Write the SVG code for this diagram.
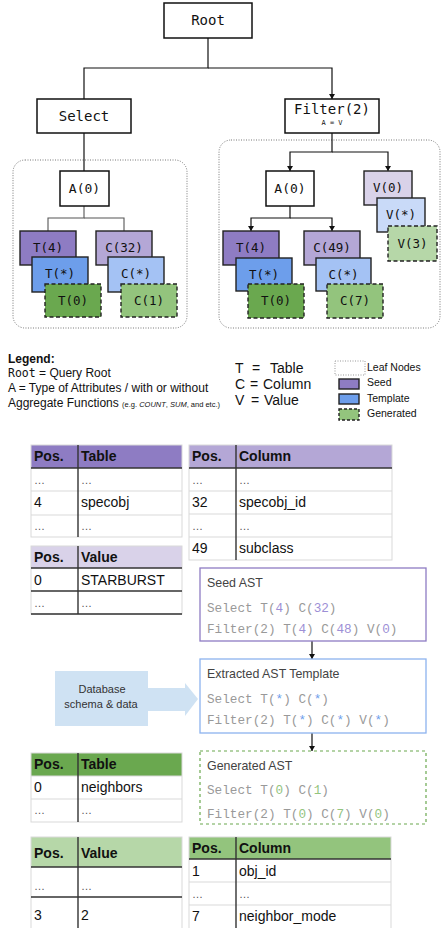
<svg xmlns="http://www.w3.org/2000/svg" width="442" height="928" viewBox="0 0 442 928">
<style>
.nb{fill:#fff;stroke:#111;stroke-width:1.5}
.sn{stroke:#222;stroke-width:1.4}
.gen{stroke-dasharray:4,2.5}
.mono{font-family:"DejaVu Sans Mono","Liberation Mono",monospace;fill:#111;text-anchor:middle}
.big{font-size:14px}
.mid{font-size:12.5px}
.con{fill:none;stroke:#111;stroke-width:1.2}
.gcon{fill:none;stroke:#555;stroke-width:1.1}
.leaf{fill:none;stroke:#777;stroke-width:1;stroke-dasharray:1,1.5}
.sans{font-family:"Liberation Sans",Arial,sans-serif;fill:#111}
.t{font-family:"Liberation Sans",Arial,sans-serif;font-size:14px;fill:#111}
.th{font-family:"Liberation Sans",Arial,sans-serif;font-size:14px;font-weight:bold;fill:#111}
.el{font-family:"Liberation Sans",Arial,sans-serif;font-size:11px;fill:#555}
.lg{fill:none;stroke:#d9d9d9;stroke-width:1}
.dk{stroke:#333;stroke-width:1.4}
.code{font-family:"Liberation Mono","Courier New",monospace;font-size:12.7px;fill:#999}
.title{font-family:"Liberation Sans",Arial,sans-serif;font-size:12.4px;fill:#434343}
.sp{fill:#9d8fd6}
.tp{fill:#6d9eeb}
.gp{fill:#93c47d}
</style>
<defs>
<marker id="ah" markerWidth="6" markerHeight="6" refX="5" refY="3" orient="auto" markerUnits="userSpaceOnUse">
<path d="M0,0 L5,3 L0,6 Z" fill="#111"/>
</marker>
</defs>

<!-- leaf containers -->
<rect class="leaf" x="13" y="160" width="174" height="168" rx="12"/>
<rect class="leaf" x="219" y="140" width="221" height="188" rx="12"/>

<g id="connectors">
<path class="con" d="M208,38 V68 H84 V99"/>
<path class="con" d="M208,68 H332 V99" marker-end="url(#ah)"/>
<path class="con" d="M84,133 V171"/>
<path class="gcon" d="M84,206 V218 H48 V231"/>
<path class="gcon" d="M84,218 H124 V231"/>
<path class="con" d="M332,133 V152 H290 V171" marker-end="url(#ah)"/>
<path class="con" d="M332,152 H388 V171" marker-end="url(#ah)"/>
<path class="con" d="M290,206 V218 H251 V231" marker-end="url(#ah)"/>
<path class="con" d="M290,218 H332 V231" marker-end="url(#ah)"/>
<path class="con" d="M312,641 V659" marker-end="url(#ah)"/>
<path class="con" d="M312,733 V751" marker-end="url(#ah)"/>
</g>

<g id="root"><rect class="nb" x="164" y="3" width="88" height="35"/><text class="mono big" x="208" y="25">Root</text></g>
<g id="select"><rect class="nb" x="37" y="99" width="94" height="34"/><text class="mono big" x="84" y="121">Select</text></g>
<g id="filter"><rect class="nb" x="285" y="99" width="94" height="34"/><text class="mono big" x="332" y="114">Filter(2)</text><text class="mono" style="font-size:7px" x="332" y="125">A = V</text></g>

<g id="a0-left"><rect class="nb" x="60" y="171" width="49" height="35"/><text class="mono" style="font-size:13px" x="84.5" y="193">A(0)</text></g>
<g id="t4-left"><rect class="sn" fill="#8e7cc3" x="20" y="231" width="56" height="34"/><text class="mono mid" x="48" y="252">T(4)</text></g>
<g id="tstar-left"><rect class="sn" fill="#6d9eeb" x="32" y="257" width="56" height="35"/><text class="mono mid" x="60" y="278">T(*)</text></g>
<g id="t0-left"><rect class="sn gen" fill="#6aa84f" x="45" y="284" width="56" height="33"/><text class="mono mid" x="73" y="305">T(0)</text></g>
<g id="c32"><rect class="sn" fill="#b4a7d6" x="96" y="231" width="56" height="34"/><text class="mono mid" x="124" y="252">C(32)</text></g>
<g id="cstar-left"><rect class="sn" fill="#a4c2f4" x="108" y="257" width="56" height="35"/><text class="mono mid" x="136" y="278">C(*)</text></g>
<g id="c1"><rect class="sn gen" fill="#93c47d" x="121" y="284" width="56" height="33"/><text class="mono mid" x="149" y="305">C(1)</text></g>

<g id="a0-right"><rect class="nb" x="266" y="171" width="48" height="35"/><text class="mono" style="font-size:13px" x="290" y="193">A(0)</text></g>
<g id="v0"><rect class="sn" fill="#d9d2e9" x="364" y="171" width="48" height="34"/><text class="mono mid" x="388" y="192">V(0)</text></g>
<g id="vstar"><rect class="sn" fill="#c9daf8" x="377" y="198" width="48" height="34"/><text class="mono mid" x="401" y="219">V(*)</text></g>
<g id="v3"><rect class="sn gen" fill="#b6d7a8" x="388" y="226" width="49" height="35"/><text class="mono mid" x="412.5" y="248">V(3)</text></g>
<g id="t4-right"><rect class="sn" fill="#8e7cc3" x="223" y="231" width="56" height="34"/><text class="mono mid" x="251" y="252">T(4)</text></g>
<g id="tstar-right"><rect class="sn" fill="#6d9eeb" x="236" y="258" width="56" height="33"/><text class="mono mid" x="264" y="279">T(*)</text></g>
<g id="t0-right"><rect class="sn gen" fill="#6aa84f" x="248" y="284" width="56" height="34"/><text class="mono mid" x="276" y="305">T(0)</text></g>
<g id="c49"><rect class="sn" fill="#b4a7d6" x="304" y="231" width="56" height="34"/><text class="mono mid" x="332" y="252">C(49)</text></g>
<g id="cstar-right"><rect class="sn" fill="#a4c2f4" x="316" y="258" width="55" height="33"/><text class="mono mid" x="343.5" y="279">C(*)</text></g>
<g id="c7"><rect class="sn gen" fill="#93c47d" x="327" y="284" width="56" height="34"/><text class="mono mid" x="355" y="305">C(7)</text></g>

<!-- legend -->
<g id="legend">
<text class="sans" x="8" y="363" style="font-size:12px;font-weight:bold">Legend:</text>
<text class="sans" x="8" y="377" style="font-size:12px"><tspan style="font-family:'DejaVu Sans Mono',monospace;font-size:11.5px">Root</tspan> = Query Root</text>
<text class="sans" x="8" y="392" style="font-size:12px">A = Type of Attributes / with or without</text>
<text class="sans" x="8" y="407" style="font-size:12px">Aggregate Functions <tspan style="font-size:7.5px">(e.g. <tspan font-style="italic">COUNT</tspan>, <tspan font-style="italic">SUM</tspan>, and etc.)</tspan></text>
<text class="sans" style="font-size:14px"><tspan x="235" y="373">T</tspan><tspan x="252" y="373">=</tspan><tspan x="270" y="373">Table</tspan><tspan x="235" y="389">C</tspan><tspan x="250" y="389">=</tspan><tspan x="263" y="389">Column</tspan><tspan x="235" y="405">V</tspan><tspan x="251" y="405">=</tspan><tspan x="264" y="405">Value</tspan></text>
<rect x="335" y="361" width="30" height="14" fill="none" stroke="#999" stroke-width="1" stroke-dasharray="1,1.5"/>
<rect class="sn" fill="#8e7cc3" x="339" y="379" width="20" height="10" stroke-width="1.2"/>
<rect class="sn" fill="#6d9eeb" x="339" y="394" width="20" height="10" stroke-width="1.2"/>
<rect class="sn gen" fill="#93c47d" x="339" y="409" width="20" height="11" stroke-width="1.2" style="stroke-dasharray:3,2"/>
<text class="sans" style="font-size:10.5px"><tspan x="367" y="371">Leaf Nodes</tspan><tspan x="367" y="386">Seed</tspan><tspan x="367" y="402">Template</tspan><tspan x="367" y="417">Generated</tspan></text>
</g>

<!-- table: seed Table -->
<g id="tbl-seed-table">
<rect x="31" y="445" width="151" height="23" fill="#8e7cc3"/>
<rect class="lg" x="31" y="445" width="151" height="92"/>
<line class="lg" x1="31" y1="491" x2="182" y2="491"/>
<line class="lg" x1="31" y1="515" x2="182" y2="515"/>
<line class="dk" x1="31" y1="468" x2="182" y2="468"/>
<line class="dk" x1="78" y1="445" x2="78" y2="537"/>
<text class="th" x="34" y="461">Pos.</text><text class="th" x="81" y="461">Table</text>
<text class="el" x="34" y="484">…</text><text class="el" x="81" y="484">…</text>
<text class="t" x="34" y="507">4</text><text class="t" x="81" y="507">specobj</text>
<text class="el" x="34" y="530">…</text><text class="el" x="81" y="530">…</text>
</g>

<!-- table: seed Column -->
<g id="tbl-seed-column">
<rect x="189" y="445" width="203" height="23" fill="#b4a7d6"/>
<rect class="lg" x="189" y="445" width="203" height="115"/>
<line class="lg" x1="189" y1="491" x2="392" y2="491"/>
<line class="lg" x1="189" y1="514" x2="392" y2="514"/>
<line class="lg" x1="189" y1="537" x2="392" y2="537"/>
<line class="dk" x1="189" y1="468" x2="392" y2="468"/>
<line class="dk" x1="236" y1="445" x2="236" y2="560"/>
<text class="th" x="192" y="461">Pos.</text><text class="th" x="239" y="461">Column</text>
<text class="el" x="192" y="484">…</text><text class="el" x="239" y="484">…</text>
<text class="t" x="192" y="507">32</text><text class="t" x="239" y="507">specobj_id</text>
<text class="el" x="192" y="530">…</text><text class="el" x="239" y="530">…</text>
<text class="t" x="192" y="553">49</text><text class="t" x="239" y="553">subclass</text>
</g>

<!-- table: seed Value -->
<g id="tbl-seed-value">
<rect x="31" y="546" width="151" height="22" fill="#d9d2e9"/>
<rect class="lg" x="31" y="546" width="151" height="68"/>
<line class="dk" x1="31" y1="568" x2="182" y2="568"/>
<line class="dk" x1="31" y1="591" x2="182" y2="591"/>
<line class="dk" x1="31" y1="614" x2="182" y2="614"/>
<line class="dk" x1="78" y1="546" x2="78" y2="614"/>
<text class="th" x="34" y="562">Pos.</text><text class="th" x="81" y="562">Value</text>
<text class="t" x="34" y="585">0</text><text class="t" x="81" y="585">STARBURST</text>
<text class="el" x="34" y="607">…</text><text class="el" x="81" y="607">…</text>
</g>

<!-- AST boxes -->
<g id="seed-ast">
<rect x="200" y="568" width="226" height="73" fill="#fff" stroke="#8e7cc3" stroke-width="1.3"/>
<text class="title" x="207" y="587">Seed AST</text>
<text class="code" x="207" y="612">Select T(<tspan class="sp">4</tspan>) C(<tspan class="sp">32</tspan>)</text>
<text class="code" x="207" y="633">Filter(2) T(<tspan class="sp">4</tspan>) C(<tspan class="sp">48</tspan>) V(<tspan class="sp">0</tspan>)</text>
</g>
<g id="template-ast">
<rect x="200" y="659" width="226" height="74" fill="#fff" stroke="#8db3ef" stroke-width="1.3"/>
<text class="title" x="207" y="678">Extracted AST Template</text>
<text class="code" x="207" y="703">Select T(<tspan class="tp">*</tspan>) C(<tspan class="tp">*</tspan>)</text>
<text class="code" x="207" y="724">Filter(2) T(<tspan class="tp">*</tspan>) C(<tspan class="tp">*</tspan>) V(<tspan class="tp">*</tspan>)</text>
</g>
<g id="generated-ast">
<rect x="200" y="751" width="226" height="73" fill="#fff" stroke="#6aa84f" stroke-width="1.2" stroke-dasharray="3,3"/>
<text class="title" x="207" y="770">Generated AST</text>
<text class="code" x="207" y="794">Select T(<tspan class="gp">0</tspan>) C(<tspan class="gp">1</tspan>)</text>
<text class="code" x="207" y="818">Filter(2) T(<tspan class="gp">0</tspan>) C(<tspan class="gp">7</tspan>) V(<tspan class="gp">0</tspan>)</text>
</g>

<g id="database">
<path d="M55,671 H148 V688 H185 V683 L198,699 L185,716 V711 H148 V726 H55 Z" fill="#cfe2f3"/>
<text class="sans" style="font-size:11px;fill:#333" text-anchor="middle" x="102" y="693">Database</text>
<text class="sans" style="font-size:11px;fill:#333" text-anchor="middle" x="101" y="708">schema &amp; data</text>
</g>

<!-- table: generated Table -->
<g id="tbl-gen-table">
<rect x="31" y="753" width="151" height="23" fill="#6aa84f"/>
<rect class="lg" x="31" y="753" width="151" height="69"/>
<line class="lg" x1="31" y1="776" x2="182" y2="776"/>
<line class="lg" x1="31" y1="799" x2="182" y2="799"/>
<line class="dk" x1="78" y1="753" x2="78" y2="822"/>
<text class="th" x="34" y="769">Pos.</text><text class="th" x="81" y="769">Table</text>
<text class="t" x="34" y="792">0</text><text class="t" x="81" y="792">neighbors</text>
<text class="el" x="34" y="814">…</text><text class="el" x="81" y="814">…</text>
</g>

<!-- table: generated Value -->
<g id="tbl-gen-value">
<rect x="31" y="837" width="151" height="30" fill="#b6d7a8"/>
<rect class="lg" x="31" y="837" width="151" height="95"/>
<line class="dk" x1="31" y1="867" x2="182" y2="867"/>
<line class="dk" x1="31" y1="897" x2="182" y2="897"/>
<line class="dk" x1="78" y1="837" x2="78" y2="928"/>
<text class="th" x="34" y="858">Pos.</text><text class="th" x="81" y="858">Value</text>
<text class="el" x="34" y="890">…</text><text class="el" x="81" y="890">…</text>
<text class="t" x="34" y="920">3</text><text class="t" x="81" y="920">2</text>
</g>

<!-- table: generated Column -->
<g id="tbl-gen-column">
<rect x="189" y="837" width="202" height="22" fill="#93c47d"/>
<rect class="lg" x="189" y="837" width="202" height="95"/>
<line class="lg" x1="189" y1="882" x2="391" y2="882"/>
<line class="lg" x1="189" y1="905" x2="391" y2="905"/>
<line class="dk" x1="189" y1="859" x2="391" y2="859"/>
<line class="dk" x1="236" y1="837" x2="236" y2="928"/>
<text class="th" x="192" y="853">Pos.</text><text class="th" x="239" y="853">Column</text>
<text class="t" x="192" y="876">1</text><text class="t" x="239" y="876">obj_id</text>
<text class="el" x="192" y="898">…</text><text class="el" x="239" y="898">…</text>
<text class="t" x="192" y="921">7</text><text class="t" x="239" y="921">neighbor_mode</text>
</g>
</svg>
